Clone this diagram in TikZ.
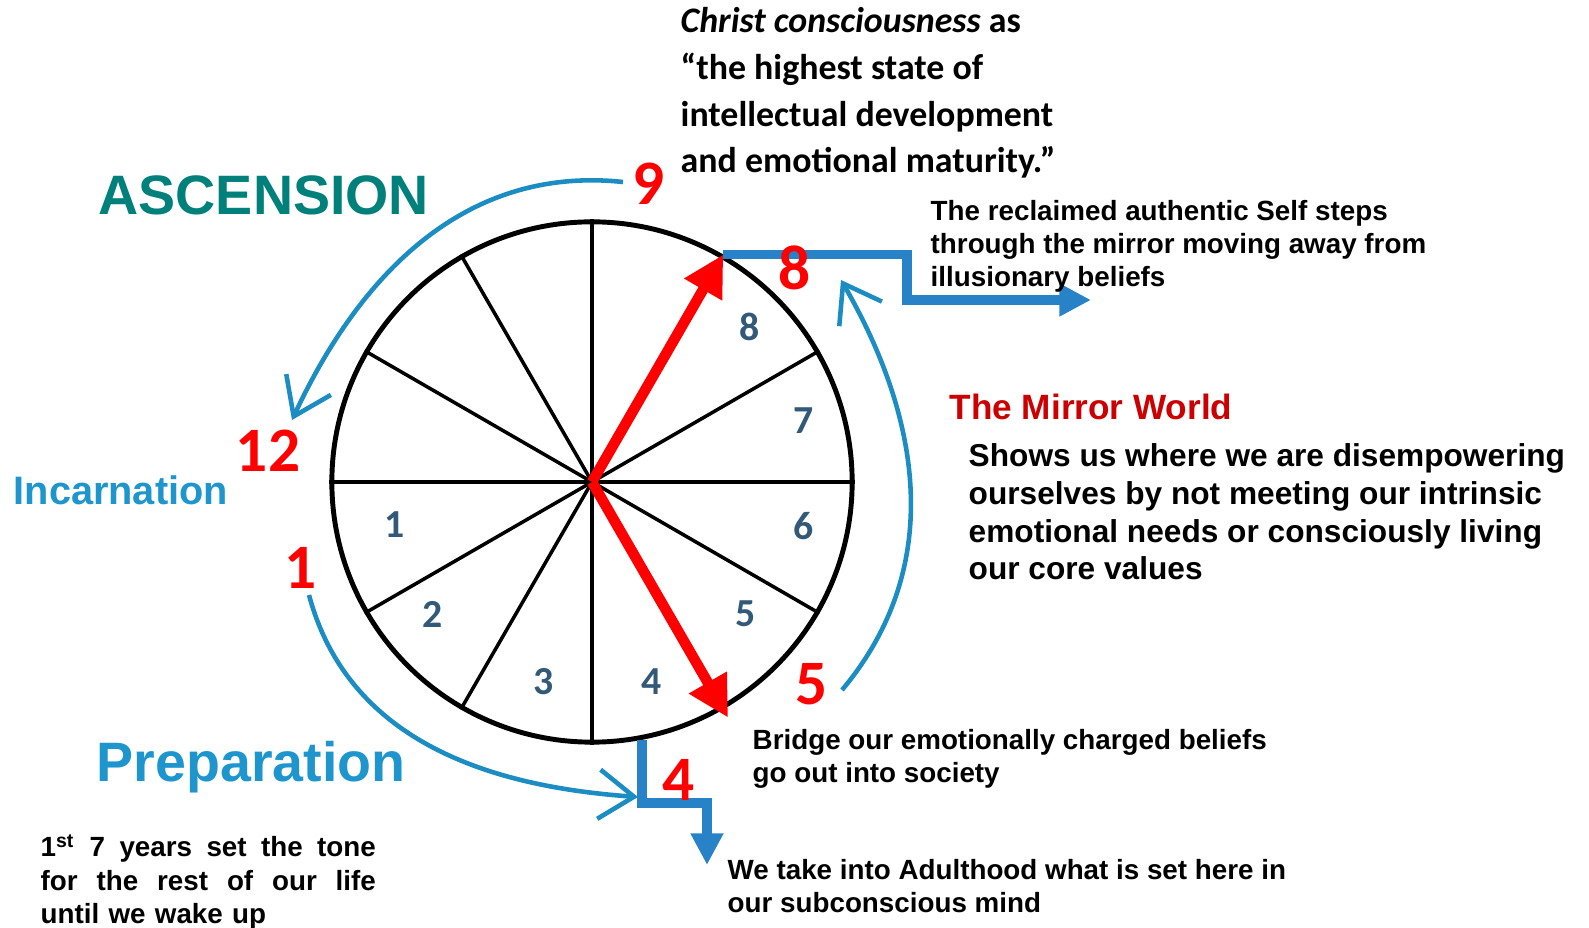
\documentclass[tikz,border=0pt]{standalone}
\usepackage{fontspec}
\setmainfont{Liberation Sans}
\newfontfamily\calibri{Carlito}
\usetikzlibrary{arrows.meta}
\definecolor{stepblue}{RGB}{40,130,200}
\definecolor{arcblue}{RGB}{27,141,194}
\definecolor{slate}{RGB}{50,90,120}
\definecolor{ascteal}{RGB}{0,128,122}
\definecolor{phaseblue}{RGB}{30,150,205}
\definecolor{mirrorred}{RGB}{204,0,0}
\tikzset{
  wheelline/.style={line width=1.4pt},
  mainspoke/.style={line width=1.3pt},
  spoke/.style={line width=1pt},
  redhand/.style={red, line width=3pt, -{Triangle[length=11.5pt,width=11.7pt]}},
  stepline/.style={stepblue, line width=2.8pt, -{Triangle[length=9pt,width=8.8pt]}},
  turnarrow/.style={arcblue, line width=1.3pt, -{Straight Barb[length=10pt,width=14pt]}},
  bignum/.style={text=red, inner sep=0pt, font=\calibri\bfseries\fontsize{18}{18}\selectfont},
  wheelnum/.style={text=slate, inner sep=0pt, font=\calibri\bfseries\fontsize{11.3}{12}\selectfont},
  phase/.style={anchor=base west, inner sep=0pt, font=\bfseries\fontsize{15.8}{18}\selectfont},
  textblock/.style={anchor=base west, align=left, inner sep=0pt, font=\bfseries\fontsize{7.9}{9.4}\selectfont}
}

\begin{document}
\begin{tikzpicture}[x=0.01cm, y=0.01cm]
    \useasboundingbox (0,0) rectangle (1589,928);

    \node [draw, circle, wheelline, minimum size=5.2cm, inner sep=0pt] (wheel) at (592,446) {};
    \draw[mainspoke] (wheel.0) -- (wheel.180);
    \draw[mainspoke] (wheel.90) -- (wheel.270);
    \foreach \a/\b in {30/210,60/240,120/300,150/330}
        \draw[spoke] (wheel.\a) -- (wheel.\b);
    \foreach \n/\x/\y in {1/395/403,2/433/314,3/544/246,4/652/246,5/746/314,6/804/402,7/804/507,8/750/601}
        \node[wheelnum] (sector\n) at (\x,\y) {\n};

    \coordinate (bend8) at (907,628);
    \coordinate (out8) at (1091,628);
    \coordinate (bend4) at (707,125);
    \coordinate (out4) at (707,63);
    \draw[stepline] (wheel.60) -| (bend8) -- (out8);
    \draw[stepline] (wheel.281) |- (bend4) -- (out4);

    \coordinate (tip4) at ([shift={(-60:272)}]wheel.center);
    \draw[redhand] (wheel.center) -- (wheel.60);
    \draw[redhand] (wheel.center) -- (tip4);

    \node[bignum] (num9) at (649,744) {9};
    \node[bignum] (num8) at (795,660) {8};
    \node[bignum] (num12) at (268,477) {12};
    \node[bignum] (num1) at (301,360) {1};
    \node[bignum] (num4) at (679,148) {4};
    \node[bignum] (num5) at (812,244) {5};

    \coordinate (from9) at (623,746);
    \coordinate (to12) at (292,508);
    \coordinate (from1) at (309,333);
    \coordinate (to4) at (638,131);
    \coordinate (from5) at (842,238);
    \coordinate (to8) at (841,648);
    \draw[turnarrow] (from9) to[out=174, in=65] (to12);
    \draw[turnarrow] (from1) to[out=285, in=176] (to4);
    \draw[turnarrow] (from5) to[out=50, in=-60] (to8);

    \node[phase, text=ascteal] (ascension) at (98,713) {ASCENSION};
    \node[anchor=base west, inner sep=0pt, text=phaseblue, font=\bfseries\fontsize{11.3}{13}\selectfont] (incarnation) at (13,423) {Incarnation};
    \node[phase, text=phaseblue] (preparation) at (96,146) {Preparation};

    \node[textblock, font=\calibri\bfseries\fontsize{10.2}{13.3}\selectfont] (christ) at (680,755) {\textit{Christ consciousness} as\\“the highest state of\\intellectual development\\and emotional maturity.”};
    \node[textblock] (selfsteps) at (930,641) {The reclaimed authentic Self steps\\through the mirror moving away from\\illusionary beliefs};
    \node[anchor=base west, inner sep=0pt, text=mirrorred, font=\bfseries\fontsize{10}{12}\selectfont] (mirror) at (949,508) {The Mirror World};
    \node[textblock, font=\bfseries\fontsize{9}{10.8}\selectfont] (mirrortext) at (968,348) {Shows us where we are disempowering\\ourselves by not meeting our intrinsic\\emotional needs or consciously living\\our core values};
    \node[textblock] (bridge) at (752,145) {Bridge our emotionally charged beliefs\\go out into society};
    \node[textblock] (adulthood) at (727,15) {We take into Adulthood what is set here in\\our subconscious mind};
    \node[textblock, text width=3.35cm] (firstyears) at (40,71) {\makebox[3.35cm][l]{1\textsuperscript{st}\hfill 7\hfill years\hfill set\hfill the\hfill tone}\\\makebox[3.35cm][l]{for\hfill the\hfill rest\hfill of\hfill our\hfill life}\\until we wake up};
\end{tikzpicture}
\end{document}
